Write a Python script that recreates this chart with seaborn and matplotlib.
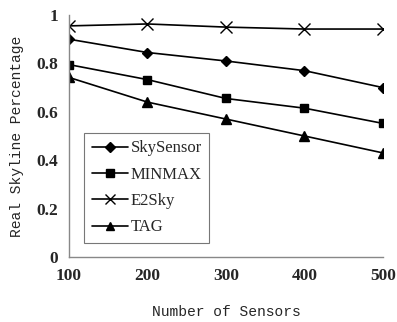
import matplotlib
matplotlib.use("Agg")
import matplotlib.pyplot as plt
import seaborn as sns
import pandas as pd

sensors = [100, 200, 300, 400, 500]
skysensor = [0.90, 0.845, 0.81, 0.77, 0.70]
minmax = [0.795, 0.733, 0.655, 0.615, 0.552]
e2sky = [0.955, 0.963, 0.95, 0.942, 0.942]
tag = [0.742, 0.64, 0.57, 0.50, 0.43]
series_names = ["SkySensor", "MINMAX", "E2Sky", "TAG"]

df = pd.DataFrame({
    "sensors": sensors * 4,
    "value": skysensor + minmax + e2sky + tag,
    "method": sum([[n] * len(sensors) for n in series_names], []),
})

sns.set_style("white")
plt.rcParams["font.family"] = ["Liberation Serif", "DejaVu Serif"]

fig = plt.figure(figsize=(3.97, 3.22), dpi=100)
ax = fig.add_axes([0.1738, 0.2019, 0.7909, 0.7515])

markers = {"SkySensor": "D", "MINMAX": "s", "E2Sky": "x", "TAG": "^"}
sizes = {"SkySensor": 5.5, "MINMAX": 6, "E2Sky": 8, "TAG": 7}
for name in series_names:
    sub = df[df["method"] == name]
    sns.lineplot(data=sub, x="sensors", y="value", ax=ax, color="black",
                 marker=markers[name], markersize=sizes[name],
                 markeredgecolor="black", markerfacecolor="black",
                 markeredgewidth=1.0, linewidth=1.2, label=name)

ax.set_xlim(100, 500)
ax.set_ylim(0, 1)
ax.set_xticks(sensors)
ax.set_yticks([0, 0.2, 0.4, 0.6, 0.8, 1.0])
ax.set_yticklabels(["0", "0.2", "0.4", "0.6", "0.8", "1"])
ax.tick_params(axis="both", direction="in", length=4, width=0.8, color="#888888",
               labelsize=12.5, pad=8)
for lbl in ax.get_xticklabels() + ax.get_yticklabels():
    lbl.set_fontweight("bold")

for s in ["top", "right"]:
    ax.spines[s].set_visible(False)
for s in ["left", "bottom"]:
    ax.spines[s].set_color("#888888")
    ax.spines[s].set_linewidth(1.0)

ax.set_xlabel("Number of Sensors", family="Liberation Mono", fontsize=10.5, labelpad=15)
ax.set_ylabel("Real Skyline Percentage", family="Liberation Mono", fontsize=10.5, labelpad=9)

leg = ax.legend(loc="lower left", bbox_to_anchor=(0.048, 0.058), fancybox=False,
                frameon=True, edgecolor="#555555", fontsize=12, handlelength=2.2,
                handletextpad=0.15, labelspacing=0.62, borderpad=0.45, borderaxespad=0,
                markerscale=0.85)
leg.get_frame().set_linewidth(0.8)

fig.savefig("out.png", dpi=100, facecolor="white")
